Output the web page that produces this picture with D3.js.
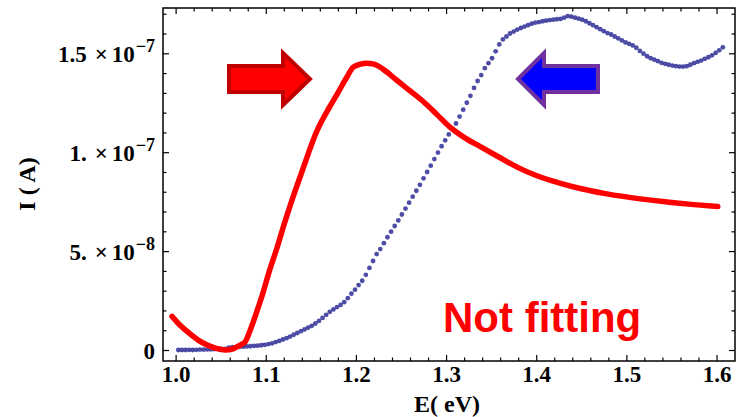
<!DOCTYPE html>
<html>
<head>
<meta charset="utf-8">
<script src="https://cdn.jsdelivr.net/npm/d3@7"></script>
<style>
  body { margin: 0; background: #fff; }
  svg { display: block; }
</style>
</head>
<body>
<svg id="chart" width="743" height="417"></svg>
<script>
// axis ticks
const xTicks = [1.0, 1.1, 1.2, 1.3, 1.4, 1.5, 1.6];
const xTickLabels = ["1.0", "1.1", "1.2", "1.3", "1.4", "1.5", "1.6"];
const yTicks = [0, 5e-8, 1e-7, 1.5e-7];
const yTickMantissa = ["0", "5.", "1.", "1.5"];
const yTickExp = [null, "\u22128", "\u22127", "\u22127"];

// measured spectrum (blue dots), I in units of 1e-8 A, E = blueStart + i*blueStep
const blueStart = 1.003;
const blueStep = 0.004;
const blueI = [
  0.00, 0.00, 0.00, 0.01, 0.00, 0.01, 0.02, 0.02, 0.03, 0.03,
  0.04, 0.05, 0.05, 0.06, 0.12, 0.14, 0.15, 0.16, 0.17, 0.18,
  0.19, 0.21, 0.22, 0.24, 0.26, 0.30, 0.34, 0.40, 0.46, 0.53,
  0.60, 0.68, 0.77, 0.86, 0.95, 1.04, 1.13, 1.22, 1.34, 1.47,
  1.62, 1.78, 1.93, 2.05, 2.17, 2.28, 2.42, 2.62, 2.85, 3.05,
  3.28, 3.50, 3.80, 4.15, 4.50, 4.85, 5.10, 5.40, 5.70, 5.98,
  6.27, 6.55, 6.85, 7.15, 7.45, 7.75, 8.05, 8.35, 8.68, 9.00,
  9.32, 9.65, 9.98, 10.30, 10.60, 10.90, 11.20, 11.45, 11.80, 12.15,
  12.50, 12.85, 13.25, 13.60, 13.90, 14.25, 14.50, 14.75, 15.10, 15.45,
  15.70, 15.85, 16.00, 16.10, 16.20, 16.28, 16.35, 16.42, 16.50, 16.55,
  16.58, 16.62, 16.65, 16.68, 16.70, 16.72, 16.74, 16.80, 16.88, 16.85,
  16.80, 16.75, 16.70, 16.62, 16.52, 16.42, 16.32, 16.22, 16.12, 16.02,
  15.95, 15.85, 15.75, 15.65, 15.55, 15.48, 15.40, 15.28, 15.12, 14.98,
  14.85, 14.75, 14.68, 14.60, 14.52, 14.47, 14.42, 14.38, 14.35, 14.33,
  14.33, 14.35, 14.42, 14.50, 14.57, 14.63, 14.72, 14.80, 14.90, 15.02,
  15.15, 15.30
];

// model curve (red line)
const redE = [0.996, 1.005, 1.015, 1.025, 1.035, 1.045, 1.055, 1.063, 1.0715, 1.077,
  1.081, 1.086, 1.092, 1.097, 1.104, 1.112, 1.12, 1.13, 1.14, 1.157,
  1.171, 1.18, 1.19, 1.197, 1.205, 1.212, 1.22, 1.23, 1.245, 1.26,
  1.275, 1.29, 1.304, 1.32, 1.338, 1.36, 1.38, 1.4, 1.425, 1.45,
  1.475, 1.5, 1.525, 1.55, 1.575, 1.6015];
const redI = [1.70, 1.25, 0.85, 0.50, 0.25, 0.08, 0.00, 0.05, 0.25, 0.40,
  0.80, 1.40, 2.20, 2.90, 4.00, 5.10, 6.30, 7.70, 9.00, 11.10,
  12.30, 13.00, 13.80, 14.30, 14.45, 14.50, 14.45, 14.20, 13.65, 13.10,
  12.55, 11.90, 11.28, 10.75, 10.28, 9.72, 9.22, 8.82, 8.45, 8.15,
  7.92, 7.74, 7.59, 7.46, 7.35, 7.25];

const svg = d3.select("#chart");
const frame = { left: 163, right: 735, top: 8, bottom: 361 };

const x = d3.scaleLinear().domain([0.986, 1.6205]).range([frame.left, frame.right]);
const y = d3.scaleLinear().domain([-0.556e-8, 17.29e-8]).range([frame.bottom, frame.top]);

const serif = "'Liberation Serif', 'Times New Roman', serif";

const xMinor = d3.range(0, 32).map(i => 1.0 + i * 0.02).filter(v => v < 1.62 && !xTicks.some(t => Math.abs(t - v) < 1e-9));
const yMinor = d3.range(1, 18).map(i => i * 1e-8).filter(v => !yTicks.some(t => Math.abs(t - v) < 1e-15));

function styleAxis(g) {
  g.select(".domain").remove();
  g.selectAll(".tick line").attr("stroke", "#000").attr("stroke-width", 1.2);
}

// bottom axis
const gx = svg.append("g").attr("transform", `translate(0,${frame.bottom})`)
  .call(d3.axisBottom(x).tickValues(xTicks).tickSize(-6).tickPadding(5)
    .tickFormat((d, i) => xTickLabels[i]));
styleAxis(gx);
gx.selectAll("text").attr("font-family", serif).attr("font-weight", "bold")
  .attr("font-size", 23).attr("fill", "#000");
svg.append("g").attr("transform", `translate(0,${frame.bottom})`)
  .call(d3.axisBottom(x).tickValues(xMinor).tickSize(-3.5).tickFormat(""))
  .call(styleAxis);

// top axis (mirror)
svg.append("g").attr("transform", `translate(0,${frame.top})`)
  .call(d3.axisTop(x).tickValues(xTicks).tickSize(-6).tickFormat(""))
  .call(styleAxis);
svg.append("g").attr("transform", `translate(0,${frame.top})`)
  .call(d3.axisTop(x).tickValues(xMinor).tickSize(-3.5).tickFormat(""))
  .call(styleAxis);

// left axis
const gy = svg.append("g").attr("transform", `translate(${frame.left},0)`)
  .call(d3.axisLeft(y).tickValues(yTicks).tickSize(-6).tickPadding(8).tickFormat(""));
styleAxis(gy);
gy.selectAll(".tick text").each(function (d, i) {
  const t = d3.select(this)
    .attr("font-family", serif).attr("font-weight", "bold")
    .attr("font-size", 23).attr("fill", "#000").attr("dy", "0.36em");
  if (yTickExp[i] === null) {
    t.text(yTickMantissa[i]);
  } else {
    t.append("tspan").text(yTickMantissa[i]);
    t.append("tspan").attr("dx", 8).text("\u00d7");
    t.append("tspan").attr("dx", 4).text("10");
    t.append("tspan").attr("dx", 1).attr("dy", -10).attr("font-size", 18).text(yTickExp[i]);
  }
});
svg.append("g").attr("transform", `translate(${frame.left},0)`)
  .call(d3.axisLeft(y).tickValues(yMinor).tickSize(-3.5).tickFormat(""))
  .call(styleAxis);

// right axis (mirror)
svg.append("g").attr("transform", `translate(${frame.right},0)`)
  .call(d3.axisRight(y).tickValues(yTicks).tickSize(-6).tickFormat(""))
  .call(styleAxis);
svg.append("g").attr("transform", `translate(${frame.right},0)`)
  .call(d3.axisRight(y).tickValues(yMinor).tickSize(-3.5).tickFormat(""))
  .call(styleAxis);

// frame
svg.append("rect")
  .attr("x", frame.left).attr("y", frame.top)
  .attr("width", frame.right - frame.left).attr("height", frame.bottom - frame.top)
  .attr("fill", "none").attr("stroke", "#000").attr("stroke-width", 1.5);

// blue measured dots
const blueData = blueI.map((v, i) => ({ e: blueStart + i * blueStep, i: v * 1e-8 }));
svg.append("g").selectAll("circle")
  .data(blueData)
  .enter()
  .append("circle")
  .attr("cx", d => x(d.e))
  .attr("cy", d => y(d.i))
  .attr("r", 2.4)
  .attr("fill", "#3a3a9c")
  .attr("fill-opacity", 0.9);

// red model line
const redData = redE.map((e, i) => ({ e, i: redI[i] * 1e-8 }));
svg.append("path")
  .datum(redData)
  .attr("fill", "none")
  .attr("stroke", "#ff0000")
  .attr("stroke-width", 5.5)
  .attr("stroke-linejoin", "round")
  .attr("stroke-linecap", "round")
  .attr("d", d3.line().x(d => x(d.e)).y(d => y(d.i)).curve(d3.curveMonotoneX));

// arrows
svg.append("path")
  .attr("d", "M229,66 L283,66 L283,53 L310,79 L283,105 L283,92 L229,92 Z")
  .attr("fill", "#ff0000").attr("stroke", "#c00000").attr("stroke-width", 4)
  .attr("stroke-linejoin", "miter");
svg.append("path")
  .attr("d", "M518,79 L544,53 L544,66 L598,66 L598,92 L544,92 L544,105 Z")
  .attr("fill", "#0000ff").attr("stroke", "#7030a0").attr("stroke-width", 4)
  .attr("stroke-linejoin", "miter");

// annotation
svg.append("text")
  .attr("x", 443).attr("y", 332)
  .attr("font-family", "'Liberation Sans', Arial, sans-serif")
  .attr("font-weight", "bold").attr("font-size", 42)
  .attr("fill", "#ff0000")
  .text("Not fitting");

// axis titles
svg.append("text")
  .attr("x", 447).attr("y", 412)
  .attr("text-anchor", "middle")
  .attr("font-family", serif).attr("font-weight", "bold").attr("font-size", 24)
  .text("E( eV)");
svg.append("text")
  .attr("transform", "translate(35,184) rotate(-90)")
  .attr("text-anchor", "middle")
  .attr("font-family", serif).attr("font-weight", "bold").attr("font-size", 24)
  .text("I ( A)");
</script>
</body>
</html>
